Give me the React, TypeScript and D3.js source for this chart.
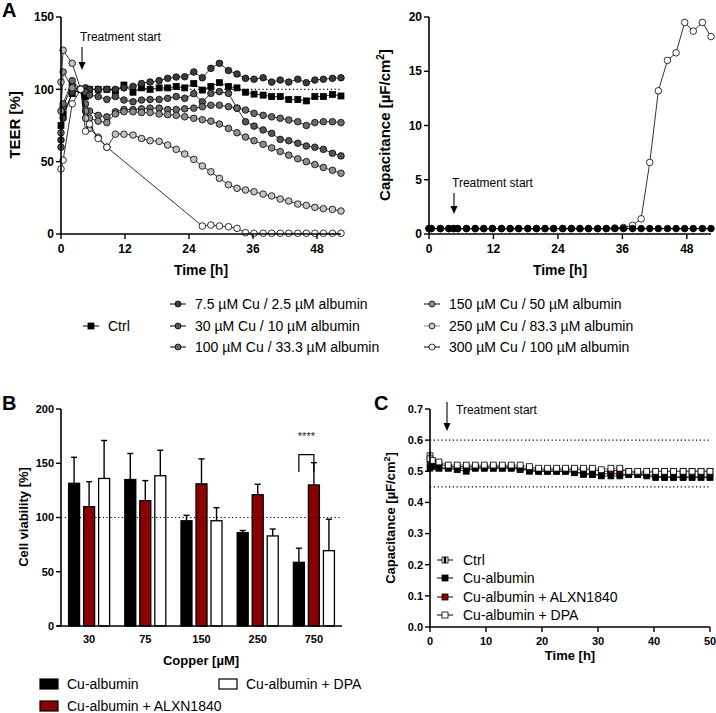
import React from "react";
import * as d3 from "d3";

const FONT = "'Liberation Sans', Arial, Helvetica, sans-serif";

// ---------- Panel A : TEER / capacitance over time ----------
const timeA = [0, 0.4, 2.1, 3.7, 4.6, 5.35, 6.97, 8.6, 10.2, 11.8, 13.5, 15.1, 16.7, 18.4, 20.0, 21.6, 23.2, 24.9, 26.5, 28.1, 29.7, 31.4, 33.0, 34.6, 36.2, 37.9, 39.5, 41.1, 42.7, 44.4, 46.0, 47.6, 49.2, 50.9, 52.5];

const teerCtrl = [75, 83, 97, 100, 95, 100, 100, 100, 99, 103, 98, 101, 100, 101, 101, 102, 101, 104, 99.5, 102, 104.6, 102, 101, 98, 96.7, 96, 95, 95, 93, 93, 92, 95, 95, 96.5, 95.4];
const teer7_5 = [65, 80, 98, 100, 101, 100, 100, 100, 100, 101, 102, 104, 105, 106, 107.6, 108.5, 108.7, 112, 108, 114.5, 118, 113, 110.6, 107.6, 107, 108, 105, 106.4, 105, 107, 104.6, 106.4, 107, 107.6, 108];
const teer30 = [60, 88, 103, 100, 98, 96, 95, 93, 95, 92.6, 91.4, 92.6, 93, 93, 93.8, 95, 93.8, 97, 91.4, 97.2, 98.4, 97.2, 87, 77.6, 74.6, 71.9, 69.6, 65.4, 64.5, 62.7, 60.8, 60, 58.5, 55.8, 54];
const teer100 = [70, 90, 106, 100, 90, 85, 82, 81, 84.5, 86, 86, 86.5, 87, 87, 86, 86, 86.5, 87, 88, 89, 89, 88, 87, 85.7, 83.4, 82, 81, 80, 78.8, 77.6, 75, 77, 77.6, 77.6, 77];
const teer150 = [85, 112, 101, 100, 85, 80, 78, 77, 83, 84.5, 84.5, 84, 84, 83, 82.5, 82, 81, 80, 79, 78, 76, 73, 70, 67, 64.5, 62, 59.5, 57, 54.5, 52, 50, 48, 46, 44, 42];
const teer250 = [105, 127, 118, 100, 80, 73, 67, 60, 69, 69, 68.4, 66, 64.5, 64, 61.5, 58.5, 55.3, 51.6, 47, 43, 38.5, 34, 31.6, 30.4, 29.2, 27.6, 26.3, 24.2, 22.8, 20.7, 19.8, 18.4, 17.5, 17, 15.9];
const teer300 = [45, 51, 90, 100, 71, 76, 66, 60, null, null, null, null, null, null, null, null, null, null, 5.5, 6.2, 5.5, 5, 3.9, 0.9, 0.5, 0.5, 0.5, 0.5, 0.5, 0.5, 0.5, 0.5, 0.5, 0.5, 0.5];

const capOther = [0.5, 0.5, 0.5, 0.5, 0.5, 0.5, 0.5, 0.5, 0.5, 0.5, 0.5, 0.5, 0.5, 0.5, 0.5, 0.5, 0.5, 0.5, 0.5, 0.5, 0.5, 0.5, 0.5, 0.5, 0.5, 0.5, 0.5, 0.5, 0.5, 0.5, 0.5, 0.5, 0.5, 0.5, 0.5];
const cap300 = [0.5, 0.5, 0.5, 0.5, 0.5, 0.5, 0.5, 0.5, 0.5, 0.5, 0.5, 0.5, 0.5, 0.5, 0.5, 0.5, 0.5, 0.5, 0.5, 0.5, 0.5, 0.5, 0.5, 0.55, 0.6, 0.8, 1.4, 6.6, 13.2, 16.0, 16.7, 19.5, 18.7, 19.5, 18.2];

const teerTicksY = [0, 50, 100, 150];
const capTicksY = [0, 5, 10, 15, 20];
const timeTicksA = [0, 12, 24, 36, 48];

const labelsA = [
  "Ctrl",
  "7.5 µM Cu / 2.5 µM albumin",
  "30 µM Cu / 10 µM albumin",
  "100 µM Cu / 33.3 µM albumin",
  "150 µM Cu / 50 µM albumin",
  "250 µM Cu / 83.3 µM albumin",
  "300 µM Cu / 100 µM albumin",
];

// ---------- Panel B : cell viability ----------
const copperLabels = ["30", "75", "150", "250", "750"];
const viabAlb = [131.5, 135, 97, 86, 58.7];
const viabAlbErr = [24, 24, 5, 2, 13];
const viabAlxn = [110, 115.5, 131, 121, 130];
const viabAlxnErr = [23, 18.5, 23, 9.6, 20.5];
const viabDpa = [136, 138.5, 97, 83, 69.4];
const viabDpaErr = [35, 23.5, 12, 6.4, 29];
const viabTicksY = [0, 50, 100, 150, 200];
const labelsB = ["Cu-albumin", "Cu-albumin + ALXN1840", "Cu-albumin + DPA"];

// ---------- Panel C : capacitance ----------
const timeC = [0, 0.4, 1.6, 3.25, 4.86, 6.47, 8.08, 9.69, 11.3, 12.9, 14.5, 16.1, 17.75, 19.4, 21.0, 22.6, 24.2, 25.8, 27.4, 29.0, 30.6, 32.3, 33.9, 35.5, 37.1, 38.7, 40.3, 41.9, 43.5, 45.2, 46.8, 48.4, 50.0];
const cCtrl = [0.55, 0.53, 0.525, 0.515, 0.515, 0.515, 0.515, 0.515, 0.515, 0.515, 0.515, 0.51, 0.51, 0.505, 0.505, 0.505, 0.505, 0.505, 0.505, 0.505, 0.5, 0.5, 0.505, 0.5, 0.495, 0.495, 0.5, 0.5, 0.5, 0.5, 0.5, 0.5, 0.5];
const cAlb = [0.51, 0.52, 0.51, 0.51, 0.505, 0.5, 0.51, 0.51, 0.51, 0.51, 0.51, 0.51, 0.5, 0.5, 0.5, 0.5, 0.5, 0.5, 0.49, 0.49, 0.485, 0.485, 0.485, 0.49, 0.49, 0.485, 0.48, 0.48, 0.48, 0.48, 0.48, 0.48, 0.48];
const cAlxn = [0.53, 0.515, 0.51, 0.51, 0.51, 0.51, 0.51, 0.51, 0.51, 0.51, 0.51, 0.505, 0.505, 0.5, 0.5, 0.5, 0.5, 0.495, 0.495, 0.49, 0.49, 0.495, 0.49, 0.49, 0.49, 0.49, 0.485, 0.482, 0.482, 0.482, 0.482, 0.482, 0.482];
const cDpa = [0.54, 0.535, 0.53, 0.52, 0.52, 0.52, 0.52, 0.52, 0.52, 0.52, 0.52, 0.52, 0.515, 0.51, 0.51, 0.51, 0.51, 0.51, 0.51, 0.51, 0.505, 0.51, 0.51, 0.5, 0.5, 0.5, 0.5, 0.5, 0.5, 0.5, 0.5, 0.5, 0.5];
const capTicksC = [0, 0.1, 0.2, 0.3, 0.4, 0.5, 0.6, 0.7];
const timeTicksC = [0, 10, 20, 30, 40, 50];
const labelsC = ["Ctrl", "Cu-albumin", "Cu-albumin + ALXN1840", "Cu-albumin + DPA"];

const RED = "#8b0000";

type Pt = [number, number];
function pts(time: number[], vals: (number | null)[]): Pt[] {
  const out: Pt[] = [];
  time.forEach((t, i) => {
    const v = vals[i];
    if (v !== null && v !== undefined) out.push([t, v]);
  });
  return out;
}

function Marker({ shape, x, y, fill, size = 3.2, stroke = "#000" }: any) {
  if (shape === "square") {
    return <rect x={x - size} y={y - size} width={size * 2} height={size * 2} fill={fill} stroke={stroke} strokeWidth={0.8} />;
  }
  if (shape === "half") {
    return (
      <g>
        <rect x={x - size} y={y - size} width={size * 2} height={size * 2} fill="#fff" stroke={stroke} strokeWidth={0.8} />
        <rect x={x - size * 0.4} y={y - size} width={size * 0.8} height={size * 2} fill="#000" />
      </g>
    );
  }
  return <circle cx={x} cy={y} r={size} fill={fill} stroke={stroke} strokeWidth={0.8} />;
}

function YAxis({ scale, x, ticks, fmt, fs }: any) {
  const [d0, d1] = scale.domain();
  return (
    <g>
      <line x1={x} x2={x} y1={scale(d0) + 0.8} y2={scale(d1)} stroke="#000" strokeWidth={1.6} />
      {ticks.map((t: number) => (
        <g key={t}>
          <line x1={x - 5} x2={x} y1={scale(t)} y2={scale(t)} stroke="#000" strokeWidth={1.4} />
          <text x={x - 7} y={scale(t)} dy="0.35em" textAnchor="end" fontSize={fs} fontWeight="bold">
            {fmt ? fmt(t) : t}
          </text>
        </g>
      ))}
    </g>
  );
}

function XAxis({ scale, y, ticks, fs, labelDy = 15 }: any) {
  const [r0, r1] = scale.range();
  return (
    <g>
      <line x1={r0 - 0.8} x2={r1} y1={y} y2={y} stroke="#000" strokeWidth={1.6} />
      {ticks.map((t: number) => (
        <g key={t}>
          <line x1={scale(t)} x2={scale(t)} y1={y} y2={y + 5} stroke="#000" strokeWidth={1.4} />
          <text x={scale(t)} y={y + labelDy} dy="0.35em" textAnchor="middle" fontSize={fs} fontWeight="bold">
            {t}
          </text>
        </g>
      ))}
    </g>
  );
}

function Arrow({ x, y1, y2 }: any) {
  return (
    <g>
      <line x1={x} x2={x} y1={y1} y2={y2 - 6} stroke="#000" strokeWidth={1.1} />
      <polygon points={`${x - 3.5},${y2 - 8} ${x + 3.5},${y2 - 8} ${x},${y2}`} fill="#000" />
    </g>
  );
}

export default function App() {
  // Panel A scales
  const xA = d3.scaleLinear().domain([0, 52.5]).range([61, 341]);
  const yA = d3.scaleLinear().domain([0, 150]).range([234, 17]);
  const xR = d3.scaleLinear().domain([0, 52.5]).range([429, 711]);
  const yR = d3.scaleLinear().domain([0, 20]).range([234, 17]);
  // Panel B scales
  const xB = d3.scaleBand<string>().domain(copperLabels).range([61, 342]).paddingInner(0.27).paddingOuter(0.135);
  const xBsub = d3.scaleBand<string>().domain(["alb", "alxn", "dpa"]).range([0, xB.bandwidth()]).paddingInner(0.267);
  const yB = d3.scaleLinear().domain([0, 200]).range([626, 409]);
  // Panel C scales
  const xC = d3.scaleLinear().domain([0, 50]).range([430, 710]);
  const yC = d3.scaleLinear().domain([0, 0.7]).range([627, 409]);

  const seriesA = [
    { label: labelsA[0], data: teerCtrl, shape: "square", fill: "#000", line: "#000" },
    { label: labelsA[1], data: teer7_5, shape: "circle", fill: "#3b3b3b", line: "#000" },
    { label: labelsA[2], data: teer30, shape: "circle", fill: "#555555", line: "#000" },
    { label: labelsA[3], data: teer100, shape: "circle", fill: "#6a6a6a", line: "#000" },
    { label: labelsA[4], data: teer150, shape: "circle", fill: "#8e8e8e", line: "#000" },
    { label: labelsA[5], data: teer250, shape: "circle", fill: "#c4c4c4", line: "#000" },
    { label: labelsA[6], data: teer300, shape: "circle", fill: "#ffffff", line: "#000" },
  ];

  const lineA = d3.line<Pt>().x((d) => xA(d[0])).y((d) => yA(d[1]));
  const lineR = d3.line<Pt>().x((d) => xR(d[0])).y((d) => yR(d[1]));
  const lineC = d3.line<Pt>().x((d) => xC(d[0])).y((d) => yC(d[1]));

  const legendPosA = [
    [91, 326],
    [178, 304],
    [178, 326],
    [178, 347],
    [432, 304],
    [432, 326],
    [432, 347],
  ];

  const barsB = [
    { key: "alb", vals: viabAlb, err: viabAlbErr, fill: "#000" },
    { key: "alxn", vals: viabAlxn, err: viabAlxnErr, fill: RED },
    { key: "dpa", vals: viabDpa, err: viabDpaErr, fill: "#fff" },
  ];

  const seriesC = [
    { label: labelsC[0], data: cCtrl, shape: "half", fill: "#fff", line: "#000" },
    { label: labelsC[1], data: cAlb, shape: "square", fill: "#000", line: "#000" },
    { label: labelsC[2], data: cAlxn, shape: "square", fill: RED, line: "#000" },
    { label: labelsC[3], data: cDpa, shape: "square", fill: "#fff", line: "#555" },
  ];
  const drawOrderC = [0, 2, 1, 3];

  // significance bracket between 750 black and red bars
  const sigX1 = (xB("750") as number) + (xBsub("alb") as number) + xBsub.bandwidth() / 2;
  const sigX2 = (xB("750") as number) + (xBsub("alxn") as number) + xBsub.bandwidth() / 2;

  return (
    <svg width={716} height={713} style={{ position: "absolute", left: 0, top: 0, background: "#fff" }} fontFamily={FONT}>
      <rect x={0} y={0} width={716} height={713} fill="#fff" />

      {/* ===================== Panel A left ===================== */}
      <text x={2} y={17} fontSize={20} fontWeight="bold">A</text>
      <line x1={xA(0)} x2={xA(52.5)} y1={yA(100)} y2={yA(100)} stroke="#000" strokeWidth={1.2} strokeDasharray="1.2 2.6" />
      {seriesA.map((s, i) => (
        <g key={i}>
          <path d={lineA(pts(timeA, s.data)) || ""} fill="none" stroke={s.line} strokeWidth={0.8} />
          {pts(timeA, s.data).map((d, j) => (
            <Marker key={j} shape={s.shape} x={xA(d[0])} y={yA(d[1])} fill={s.fill} size={s.shape === "square" ? 3 : 3.3} />
          ))}
        </g>
      ))}
      <YAxis scale={yA} x={61} ticks={teerTicksY} fs={12} />
      <XAxis scale={xA} y={234} ticks={timeTicksA} fs={12} />
      <text transform={`translate(15,125) rotate(-90)`} textAnchor="middle" dy="0.35em" fontSize={15} fontWeight="bold">TEER [%]</text>
      <text x={201} y={275} textAnchor="middle" fontSize={14} fontWeight="bold">Time [h]</text>
      <text x={80} y={41} fontSize={12}>Treatment start</text>
      <Arrow x={82} y1={47} y2={70} />

      {/* ===================== Panel A right ===================== */}
      <path d={lineR(pts(timeA, cap300)) || ""} fill="none" stroke="#000" strokeWidth={0.8} />
      {pts(timeA, cap300).map((d, j) => (
        <Marker key={j} shape="circle" x={xR(d[0])} y={yR(d[1])} fill="#fff" size={3.3} />
      ))}
      <path d={lineR(pts(timeA, capOther)) || ""} fill="none" stroke="#000" strokeWidth={1.2} />
      {pts(timeA, capOther).map((d, j) => (
        <Marker key={j} shape="circle" x={xR(d[0])} y={yR(d[1])} fill="#000" size={3.3} />
      ))}
      <YAxis scale={yR} x={429} ticks={capTicksY} fs={12} />
      <XAxis scale={xR} y={234} ticks={timeTicksA} fs={12} />
      <text transform={`translate(385,125) rotate(-90)`} textAnchor="middle" dy="0.35em" fontSize={15} fontWeight="bold">
        Capacitance [µF/cm<tspan dy={-6} fontSize={10}>2</tspan>
        <tspan dy={6}>]</tspan>
      </text>
      <text x={560} y={275} textAnchor="middle" fontSize={14} fontWeight="bold">Time [h]</text>
      <text x={452} y={187} fontSize={12}>Treatment start</text>
      <Arrow x={454} y1={193} y2={214} />

      {/* ===================== Legend A ===================== */}
      {seriesA.map((s, i) => {
        const [lx, ly] = legendPosA[i];
        return (
          <g key={i}>
            <line x1={lx - 8} x2={lx + 8} y1={ly} y2={ly} stroke={i === 5 ? "#888" : "#000"} strokeWidth={1} />
            <Marker shape={s.shape} x={lx} y={ly} fill={s.fill} size={3} />
            <text x={lx + 17} y={ly} dy="0.35em" fontSize={14}>{s.label}</text>
          </g>
        );
      })}

      {/* ===================== Panel B ===================== */}
      <text x={2} y={410} fontSize={20} fontWeight="bold">B</text>
      {barsB.map((g) =>
        copperLabels.map((c, i) => {
          const bx = (xB(c) as number) + (xBsub(g.key) as number);
          const bw = xBsub.bandwidth();
          const top = yB(g.vals[i]);
          const etop = yB(g.vals[i] + g.err[i]);
          const cx = bx + bw / 2;
          return (
            <g key={g.key + c}>
              <line x1={cx} x2={cx} y1={top} y2={etop} stroke="#000" strokeWidth={1.4} />
              <line x1={cx - 3} x2={cx + 3} y1={etop} y2={etop} stroke="#000" strokeWidth={1.4} />
              <rect x={bx} y={top} width={bw} height={yB(0) - top} fill={g.fill} stroke="#000" strokeWidth={1.3} />
            </g>
          );
        })
      )}
      <line x1={61} x2={342} y1={yB(100)} y2={yB(100)} stroke="#000" strokeWidth={1.2} strokeDasharray="1.2 2.6" />
      <path d={`M${sigX1},${yB(142)} V${yB(158)} H${sigX2} V${yB(142)}`} fill="none" stroke="#000" strokeWidth={1.2} />
      <text x={(sigX1 + sigX2) / 2} y={440} textAnchor="middle" fontSize={11} fill="#222">****</text>
      <YAxis scale={yB} x={61} ticks={viabTicksY} fs={11} />
      <line x1={57} x2={342} y1={yB(0)} y2={yB(0)} stroke="#000" strokeWidth={1.6} />
      {copperLabels.map((c) => (
        <text key={c} x={(xB(c) as number) + xB.bandwidth() / 2} y={643} textAnchor="middle" fontSize={11} fontWeight="bold">{c}</text>
      ))}
      <text transform={`translate(23,517) rotate(-90)`} textAnchor="middle" dy="0.35em" fontSize={13} fontWeight="bold">Cell viability [%]</text>
      <text x={201} y={665} textAnchor="middle" fontSize={13} fontWeight="bold">Copper [µM]</text>
      {/* Legend B */}
      {[
        { x: 40, y: 684, fill: "#000", label: labelsB[0] },
        { x: 40, y: 706, fill: RED, label: labelsB[1] },
        { x: 219, y: 684, fill: "#fff", label: labelsB[2] },
      ].map((l, i) => (
        <g key={i}>
          <rect x={l.x} y={l.y - 5} width={18} height={10} fill={l.fill} stroke="#000" strokeWidth={1.2} />
          <text x={l.x + 27} y={l.y} dy="0.35em" fontSize={14}>{l.label}</text>
        </g>
      ))}

      {/* ===================== Panel C ===================== */}
      <text x={374} y={410} fontSize={20} fontWeight="bold">C</text>
      <line x1={430} x2={710} y1={yC(0.6)} y2={yC(0.6)} stroke="#000" strokeWidth={1.2} strokeDasharray="1.2 2.6" />
      <line x1={430} x2={710} y1={yC(0.45)} y2={yC(0.45)} stroke="#000" strokeWidth={1.2} strokeDasharray="1.2 2.6" />
      {drawOrderC.map((k) => {
        const s = seriesC[k];
        return (
          <g key={k}>
            <path d={lineC(pts(timeC, s.data)) || ""} fill="none" stroke={s.line} strokeWidth={0.8} />
            {pts(timeC, s.data).map((d, j) => (
              <Marker key={j} shape={s.shape} x={xC(d[0])} y={yC(d[1])} fill={s.fill} size={2.9} />
            ))}
          </g>
        );
      })}
      <YAxis scale={yC} x={430} ticks={capTicksC} fs={11} fmt={(t: number) => t.toFixed(1)} />
      <XAxis scale={xC} y={627} ticks={timeTicksC} fs={11} labelDy={14} />
      <text transform={`translate(390,518) rotate(-90)`} textAnchor="middle" dy="0.35em" fontSize={13} fontWeight="bold">
        Capacitance [µF/cm<tspan dy={-5} fontSize={9}>2</tspan>
        <tspan dy={5}>]</tspan>
      </text>
      <text x={570} y={660} textAnchor="middle" fontSize={13} fontWeight="bold">Time [h]</text>
      <text x={456} y={414} fontSize={12}>Treatment start</text>
      <Arrow x={447} y1={402} y2={431} />
      {/* Legend C */}
      {seriesC.map((s, i) => {
        const ly = [560, 578, 597, 615][i];
        return (
          <g key={i}>
            <line x1={437} x2={453} y1={ly} y2={ly} stroke="#000" strokeWidth={1} />
            <Marker shape={s.shape} x={445} y={ly} fill={s.fill} size={3} />
            <text x={463} y={ly} dy="0.35em" fontSize={14}>{s.label}</text>
          </g>
        );
      })}
    </svg>
  );
}
